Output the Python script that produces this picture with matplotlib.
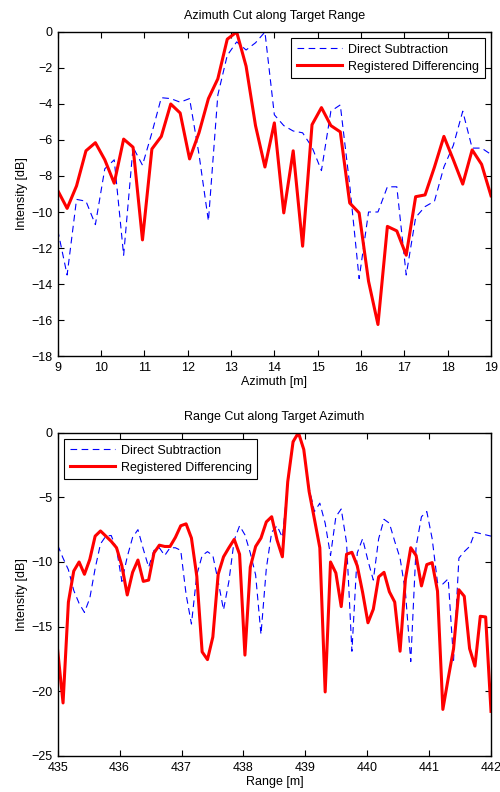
import numpy as np
import matplotlib
matplotlib.use("Agg")
import matplotlib.pyplot as plt

plt.rcParams['font.family'] = ['Liberation Sans', 'DejaVu Sans']

# azimuth cut (top)
az = np.linspace(9.0, 19.0, 47)
az_direct = [-11.0, -13.5, -9.3, -9.4, -10.7, -7.6, -7.1, -12.4, -6.4, -7.4,
             -5.6, -3.65, -3.7, -3.9, -3.7, -6.8, -10.5, -3.5, -1.3, -0.55,
             -1.0, -0.6, 0.0, -4.6, -5.2, -5.5, -5.6, -6.4, -7.7, -4.4,
             -4.05, -8.5, -13.7, -10.0, -10.0, -8.6, -8.6, -13.5, -10.3, -9.7,
             -9.4, -7.5, -6.3, -4.4, -6.45, -6.45, -6.8]
az_registered = [-8.8, -9.8, -8.55, -6.6, -6.15, -7.1, -8.4, -5.95, -6.4, -11.55,
                 -6.5, -5.8, -4.0, -4.5, -7.05, -5.6, -3.7, -2.6, -0.4, 0.0,
                 -1.9, -5.2, -7.5, -5.05, -10.05, -6.6, -11.9, -5.15, -4.2, -5.2,
                 -5.55, -9.5, -10.05, -13.85, -16.25, -10.8, -11.05, -12.4, -9.15, -9.05,
                 -7.5, -5.8, -7.1, -8.45, -6.55, -7.35, -9.1]

# range cut (bottom)
rg = np.linspace(435.0, 442.0, 82)
rg_direct = [-8.7, -9.7, -10.6, -12.2, -13.2, -13.9, -12.8, -10.5, -8.6, -8.0,
             -7.95, -9.0, -11.5, -9.6, -8.1, -7.5, -9.0, -10.4, -9.1, -8.9,
             -9.5, -8.9, -8.9, -9.1, -12.5, -14.8, -11.0, -9.5, -9.2, -9.5,
             -11.5, -13.7, -11.5, -8.3, -7.2, -7.9, -9.3, -11.0, -15.6, -10.5,
             -7.7, -7.2, -8.1, -4.0, -0.8, -0.1, -1.4, -4.3, -6.1, -5.45,
             -7.0, -9.5, -6.5, -5.9, -8.5, -16.9, -9.3, -8.2, -9.9, -11.4,
             -8.2, -6.7, -7.0, -8.4, -9.7, -12.3, -17.7, -8.8, -6.5, -6.1,
             -8.2, -11.6, -11.7, -11.3, -17.6, -9.7, -9.2, -8.8, -7.7, -7.8,
             -7.9, -8.0]
rg_registered = [-16.85, -20.9, -13.1, -10.7, -10.0, -10.95, -9.8, -8.0, -7.6, -8.0,
                 -8.4, -8.9, -10.3, -12.55, -10.8, -9.85, -11.5, -11.4, -9.3, -8.7,
                 -8.8, -8.8, -8.1, -7.2, -7.05, -8.15, -11.1, -16.95, -17.55, -15.8,
                 -10.95, -9.6, -8.9, -8.25, -9.4, -17.2, -10.4, -8.8, -8.15, -6.9,
                 -6.5, -8.3, -9.6, -3.8, -0.7, 0.0, -1.3, -4.55, -6.7, -8.9,
                 -20.05, -10.0, -10.85, -13.45, -9.4, -9.25, -10.3, -12.35, -14.7, -13.65,
                 -11.15, -10.8, -12.3, -13.1, -16.9, -11.35, -8.9, -9.5, -11.85, -10.2,
                 -10.05, -12.25, -21.4, -19.0, -16.7, -12.15, -12.65, -16.7, -18.05, -14.2,
                 -14.25, -21.55]

lbl_d = "Direct Subtraction"
lbl_r = "Registered Differencing"

fig = plt.figure(figsize=(5.0, 7.92), dpi=100)
ax1 = fig.add_axes([0.1154, 0.5505, 0.8666, 0.4091])
ax2 = fig.add_axes([0.1154, 0.0455, 0.8666, 0.4082])

fs = 9

def style(ax):
    ax.tick_params(direction='in', top=True, right=True, labelsize=fs,
                   length=4, width=0.8, pad=4)
    for s in ax.spines.values():
        s.set_linewidth(1.0)

def minus(vals):
    return [str(v).replace('-', '\u2212') for v in vals]

leg_kw = dict(fontsize=fs, fancybox=False, edgecolor='k', framealpha=1,
              borderpad=0.45, labelspacing=0.4, handlelength=3.6,
              handletextpad=0.5, borderaxespad=0.5)

ax1.plot(az, az_direct, color='b', ls=(0, (6, 4)), lw=0.8, label=lbl_d)
ax1.plot(az, az_registered, color='r', lw=2.2, label=lbl_r)
ax1.set_xlim(9, 19)
ax1.set_ylim(-18, 0)
ax1.set_xticks(np.arange(9, 20, 1))
ax1.set_yticks(np.arange(-18, 1, 2))
ax1.set_yticklabels(minus(range(-18, 1, 2)))
ax1.set_xlabel("Azimuth [m]", fontsize=fs, labelpad=2)
ax1.set_ylabel("Intensity [dB]", fontsize=fs, labelpad=2)
ax1.set_title("Azimuth Cut along Target Range", fontsize=fs, pad=9)
style(ax1)
leg1 = ax1.legend(loc='upper right', **leg_kw)
leg1.get_frame().set_linewidth(0.8)

ax2.plot(rg, rg_direct, color='b', ls=(0, (6, 4)), lw=0.8, label=lbl_d)
ax2.plot(rg, rg_registered, color='r', lw=2.2, label=lbl_r)
ax2.set_xlim(435, 442)
ax2.set_ylim(-25, 0)
ax2.set_xticks(np.arange(435, 443, 1))
ax2.set_yticks(np.arange(-25, 1, 5))
ax2.set_yticklabels(minus(range(-25, 1, 5)))
ax2.set_xlabel("Range [m]", fontsize=fs, labelpad=2)
ax2.set_ylabel("Intensity [dB]", fontsize=fs, labelpad=2)
ax2.set_title("Range Cut along Target Azimuth", fontsize=fs, pad=9)
style(ax2)
leg2 = ax2.legend(loc='upper left', **leg_kw)
leg2.get_frame().set_linewidth(0.8)

fig.savefig("out.png", dpi=100)
